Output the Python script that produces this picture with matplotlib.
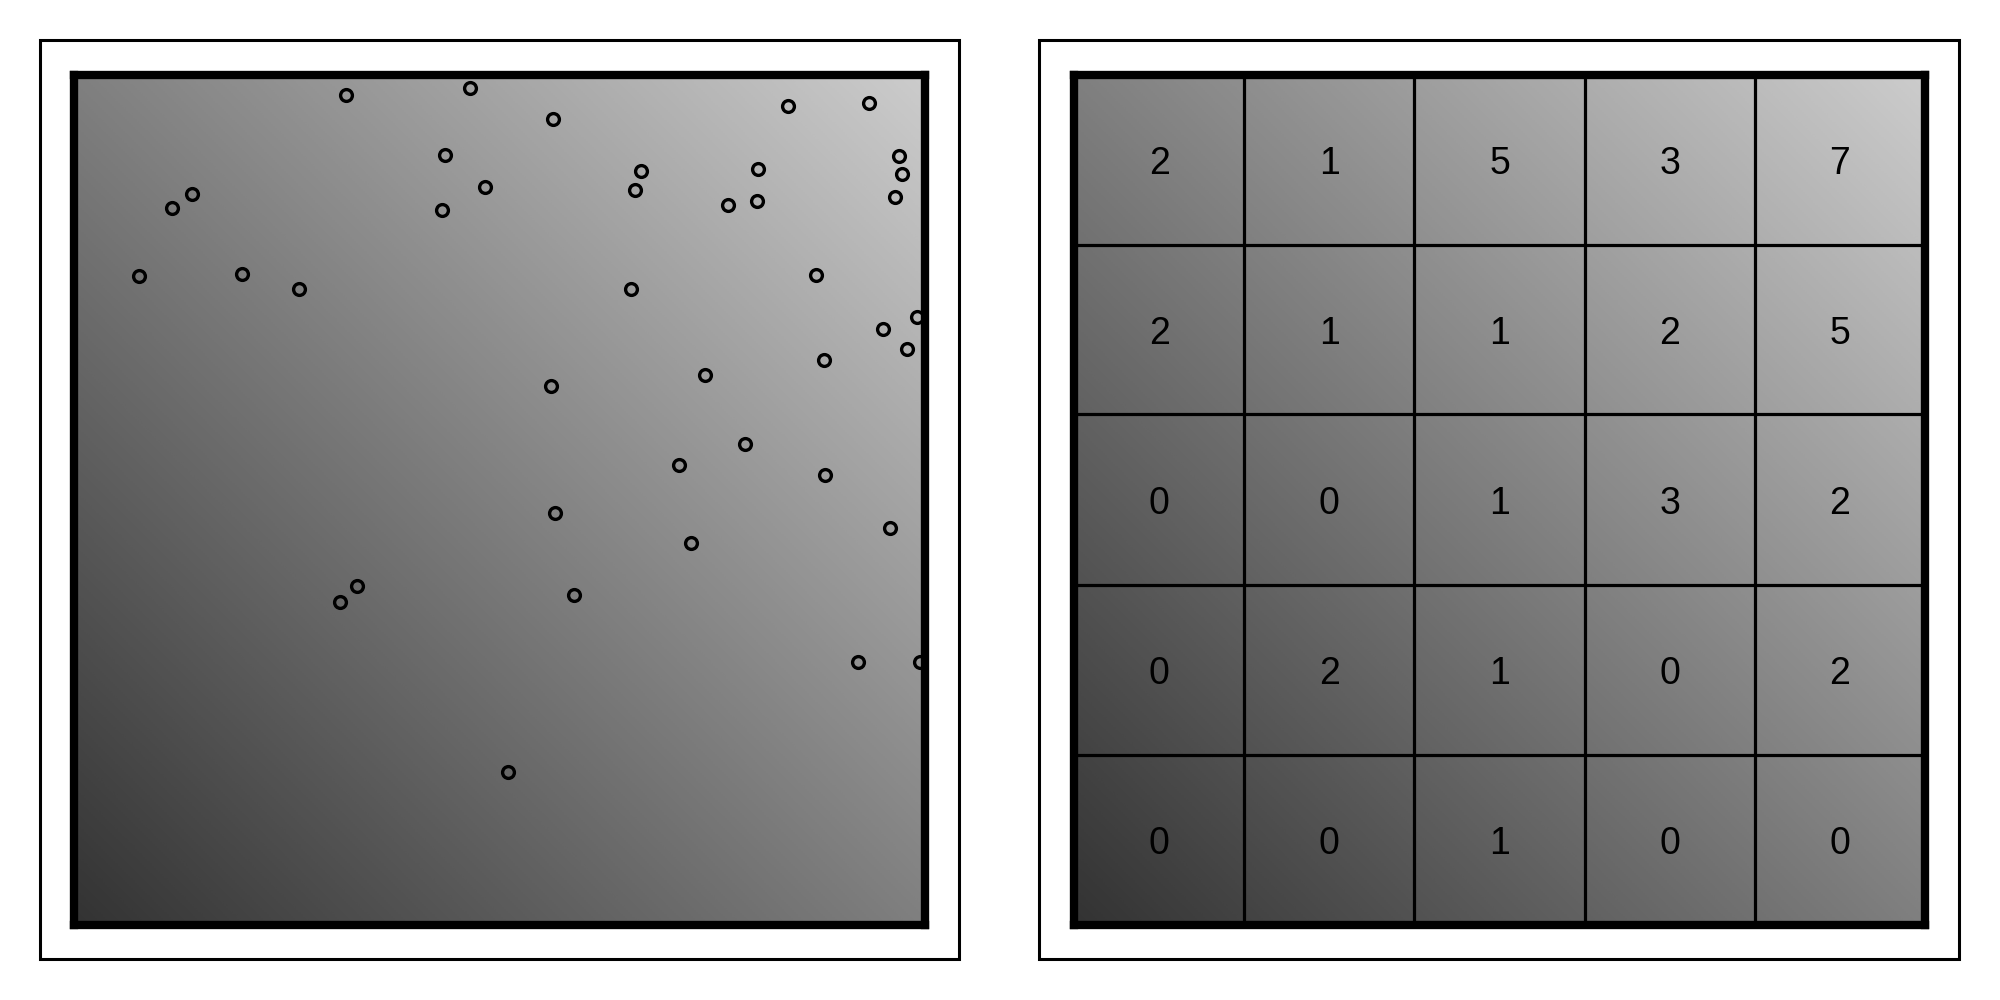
import numpy as np
import matplotlib
matplotlib.use("Agg")
import matplotlib.pyplot as plt
from matplotlib.colors import LinearSegmentedColormap
from matplotlib.patches import Rectangle

# ---- data (axes span 0..1) ----
points_x = [0.320, 0.465, 0.436, 0.483, 0.432, 0.139, 0.115, 0.076, 0.197, 0.264,
            0.563, 0.666, 0.659, 0.839, 0.934, 0.969, 0.973, 0.804, 0.802, 0.768,
            0.965, 0.872, 0.654, 0.991, 0.951, 0.979, 0.881, 0.741, 0.560, 0.788,
            0.711, 0.882, 0.565, 0.959, 0.725, 0.588, 0.921, 0.994, 0.510, 0.333,
            0.312]
points_y = [0.976, 0.984, 0.905, 0.868, 0.841, 0.859, 0.843, 0.763, 0.765, 0.748,
            0.948, 0.886, 0.864, 0.963, 0.966, 0.904, 0.883, 0.889, 0.851, 0.847,
            0.856, 0.764, 0.748, 0.715, 0.701, 0.677, 0.664, 0.646, 0.633, 0.565,
            0.540, 0.529, 0.484, 0.466, 0.449, 0.388, 0.309, 0.309, 0.180, 0.398,
            0.379]

# 5x5 counts, rows listed top to bottom, columns left to right
counts = [
    [2, 1, 5, 3, 7],
    [2, 1, 1, 2, 5],
    [0, 0, 1, 3, 2],
    [0, 2, 1, 0, 2],
    [0, 0, 1, 0, 0],
]
n_bins = 5

# ---- figure ----
fig = plt.figure(figsize=(20, 10), dpi=100)
fig.patch.set_facecolor("white")

cmap = LinearSegmentedColormap.from_list("g", ["#333333", "#cccccc"])
gx, gy = np.meshgrid(np.linspace(0, 1, 400), np.linspace(0, 1, 400))
grad = gx + gy

ax_w, ax_h = 851 / 2000, 850 / 1000
ax_y0 = 75.5 / 1000
ax1 = fig.add_axes([74 / 2000, ax_y0, ax_w, ax_h])
ax2 = fig.add_axes([1074 / 2000, ax_y0, ax_w, ax_h])

for ax in (ax1, ax2):
    ax.imshow(grad, cmap=cmap, extent=[0, 1, 0, 1], origin="lower",
              aspect="auto", vmin=0, vmax=2, interpolation="bilinear", zorder=0)
    ax.set_xlim(0, 1)
    ax.set_ylim(0, 1)
    ax.set_xticks([])
    ax.set_yticks([])
    for sp in ax.spines.values():
        sp.set_linewidth(6.0)
        sp.set_color("black")
        sp.set_zorder(10)

# left: scatter of open circles
ax1.plot(points_x, points_y, linestyle="none", marker="o", markersize=8.5,
         markerfacecolor="none", markeredgecolor="black", markeredgewidth=2.4,
         zorder=5)

# right: grid of counts
edges = np.linspace(0, 1, n_bins + 1)
for e in edges[1:-1]:
    ax2.axvline(e, color="black", linewidth=2.3, zorder=4)
    ax2.axhline(e, color="black", linewidth=2.3, zorder=4)
centers = (edges[:-1] + edges[1:]) / 2
for r, row in enumerate(counts):
    yc = centers[n_bins - 1 - r]
    for c, val in enumerate(row):
        ax2.text(centers[c], yc, str(val), ha="center", va="center_baseline",
                 fontsize=27, family=["Liberation Sans", "DejaVu Sans"],
                 color="black", zorder=6)

# outer frames
for x0, x1 in ((40, 959), (1039, 1959)):
    fig.patches.append(Rectangle((x0 / 2000, 41 / 1000), (x1 - x0) / 2000,
                                 (959 - 40) / 1000, transform=fig.transFigure,
                                 fill=False, edgecolor="black", linewidth=2.2,
                                 zorder=0))

fig.savefig("out.png", dpi=100, facecolor="white")
